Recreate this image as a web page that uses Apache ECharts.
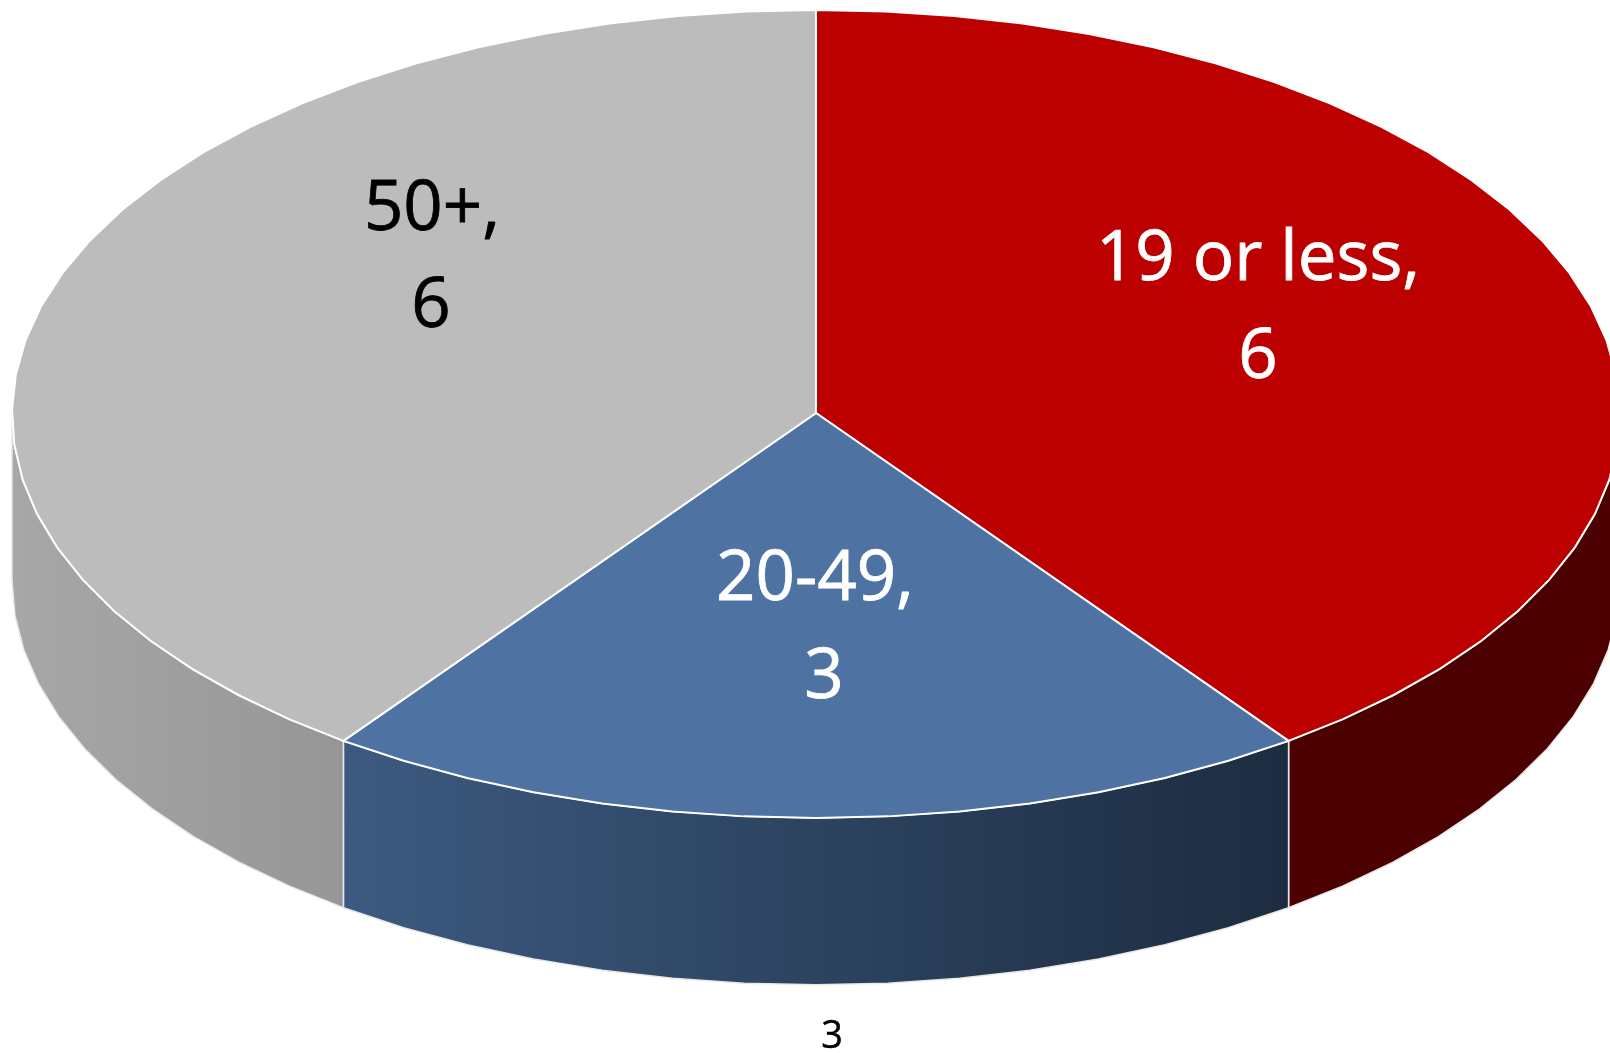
<!DOCTYPE html>
<html>
<head>
<meta charset="utf-8">
<style>html,body{margin:0;padding:0;background:#fff;overflow:hidden}#c{width:1610px;height:1053px}</style>
<script src="https://cdn.jsdelivr.net/npm/echarts@6/dist/echarts.min.js"></script>
</head>
<body>
<div id="c"></div>
<script>
const categories = ['19 or less', '20-49', '50+'];
const seriesValues = [6, 3, 6];
const strayLabel = '3';

const topColors = ['#BC0000', '#4E72A2', '#BCBCBC'];
const sideColors = [
  ['#4C0000', '#4C0000'],
  ['#3C5A80', '#1D2C40'],
  ['#A7A7A7', '#969696']
];
const labelColors = ['#FFFFFF', '#FFFFFF', '#000000'];
const FONT_FAMILY = '"Open Sans", "Noto Sans", sans-serif';
const DEPTH = 0.413;          // rim height in axis units
const APEX_Y = 0.0025;        // apex sits a hair above the ellipse centre
const STEP = 5;               // facet size in degrees
const total = seriesValues.reduce((a, b) => a + b, 0);

// label line anchors, in pixels
const labelLines = [
  [{ x: 1258, y: 260 }, { x: 1258, y: 358 }],
  [{ x: 815, y: 580 }, { x: 824, y: 678 }],
  [{ x: 432, y: 210 }, { x: 431, y: 307 }]
];

function arc(from, to) {
  const out = [];
  const n = Math.max(1, Math.round((from - to) / STEP));
  for (let i = 0; i <= n; i++) out.push(from + (to - from) * i / n);
  return out;
}
const rad = d => d * Math.PI / 180;

function renderItem(params, api) {
  const idx = params.dataIndex;
  let start = 90;
  for (let i = 0; i < idx; i++) start -= seriesValues[i] / total * 360;
  const end = start - api.value(1) / total * 360;
  const pt = (deg, drop) => api.coord([Math.cos(rad(deg)), Math.sin(rad(deg)) - (drop || 0)]);
  const children = [];

  // front rim: only the part of the slice on the lower half of the ellipse
  const sideFrom = Math.min(start, 0), sideTo = Math.max(end, -180);
  if (sideFrom > sideTo) {
    const a = arc(sideFrom, sideTo);
    const pts = a.map(d => pt(d, 0)).concat(a.slice().reverse().map(d => pt(d, DEPTH)));
    children.push({
      type: 'polygon',
      shape: { points: pts },
      style: {
        fill: new echarts.graphic.LinearGradient(0, 0, 1, 0, [
          { offset: 0, color: sideColors[idx][0] },
          { offset: 1, color: sideColors[idx][1] }
        ]),
        stroke: '#E8E8E8',
        lineWidth: 1.5
      }
    });
  }

  // top face
  const topPts = [api.coord([0, APEX_Y])].concat(arc(start, end).map(d => pt(d, 0)));
  children.push({
    type: 'polygon',
    z2: 10,
    shape: { points: topPts },
    style: { fill: topColors[idx], stroke: '#FFFFFF', lineWidth: 2 }
  });
  return { type: 'group', children };
}

function renderLabels(params, api) {
  const idx = params.dataIndex;
  const texts = [categories[idx] + ',', String(api.value(1))];
  return {
    type: 'group',
    children: texts.map((t, i) => ({
      type: 'text',
      z2: 20,
      style: {
        text: t,
        x: labelLines[idx][i].x,
        y: labelLines[idx][i].y,
        fill: labelColors[idx],
        stroke: labelColors[idx],
        lineWidth: 0.8,
        fontFamily: FONT_FAMILY,
        fontSize: 69,
        align: 'center',
        verticalAlign: 'middle'
      }
    }))
  };
}

const chart = echarts.init(document.getElementById('c'), null, { renderer: 'canvas' });
chart.setOption({
  animation: false,
  backgroundColor: '#FFFFFF',
  grid: { left: 12, top: 10, width: 1608, height: 808, outerBoundsMode: 'none', containLabel: false },
  xAxis: { type: 'value', min: -1, max: 1, show: false },
  yAxis: { type: 'value', min: -1, max: 1, show: false },
  series: [
    { type: 'custom', renderItem, clip: false, z: 2, data: seriesValues.map((v, i) => [i, v]) },
    { type: 'custom', renderItem: renderLabels, clip: false, z: 3, data: seriesValues.map((v, i) => [i, v]) }
  ],
  graphic: [{
    type: 'text', z: 5, x: 832, y: 1037,
    style: { text: strayLabel, fill: '#000', stroke: '#000', lineWidth: 0.4, fontFamily: FONT_FAMILY, fontSize: 38, align: 'center', verticalAlign: 'middle' }
  }]
});
</script>
</body>
</html>
